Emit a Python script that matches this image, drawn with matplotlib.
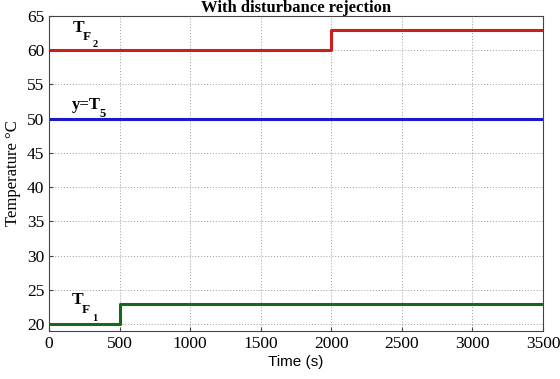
import matplotlib
matplotlib.use("Agg")
import matplotlib.pyplot as plt
import matplotlib.transforms as mtransforms

t_f2 = [0, 2000, 2000, 3500]
v_f2 = [60, 60, 63, 63]
t_y = [0, 3500]
v_y = [50, 50]
t_f1 = [0, 500, 500, 3500]
v_f1 = [20, 20, 23, 23]
xticks = [0, 500, 1000, 1500, 2000, 2500, 3000, 3500]
yticks = [20, 25, 30, 35, 40, 45, 50, 55, 60, 65]

serif = ["Liberation Serif", "DejaVu Serif"]
plt.rcParams["font.family"] = serif

fig = plt.figure(figsize=(5.6, 3.79), dpi=100)
ax = fig.add_axes([0.0875, 0.1266, 0.8821, 0.8312])
ax.plot(t_f2, v_f2, color="#cc1f1a", lw=2.2)
ax.plot(t_y, v_y, color="#1a1acc", lw=2.2)
ax.plot(t_f1, v_f1, color="#14691a", lw=2.2)
ax.set_xlim(0, 3500)
ax.set_ylim(19, 65)
ax.set_xticks(xticks)
ax.set_yticks(yticks)
ax.tick_params(labelsize=12.5, direction="in", length=3, color="#444444")
ax.grid(True, linestyle=(0, (1, 2)), color="#999999", lw=0.7)
for s in ax.spines.values():
    s.set_color("#444444")
ax.set_title("With disturbance rejection", fontsize=12, fontweight="bold", pad=1)
ax.set_xlabel("Time (s)", fontsize=11, family=["Liberation Sans", "DejaVu Sans"], labelpad=2)
ax.set_ylabel("Temperature °C", fontsize=12, labelpad=4)


def label(x, y, parts):
    for txt, dx, dy, size in parts:
        tr = mtransforms.offset_copy(ax.transData, fig=fig, x=dx, y=dy, units="dots")
        ax.text(x, y, txt, transform=tr, fontsize=size, fontweight="bold",
                va="baseline", ha="left")


label(170, 62.66, [("T", 0, 0, 12.5), ("F", 9.5, -8, 9.5), ("2", 20, -15, 7.5)])
label(160, 51.42, [("y=T", 0, 0, 12), ("5", 28, -8, 9)])
label(163, 22.94, [("T", 0, 0, 12.5), ("F", 10, -9, 9.5), ("1", 20, -17, 7.5)])
fig.savefig("out.png", dpi=100)
